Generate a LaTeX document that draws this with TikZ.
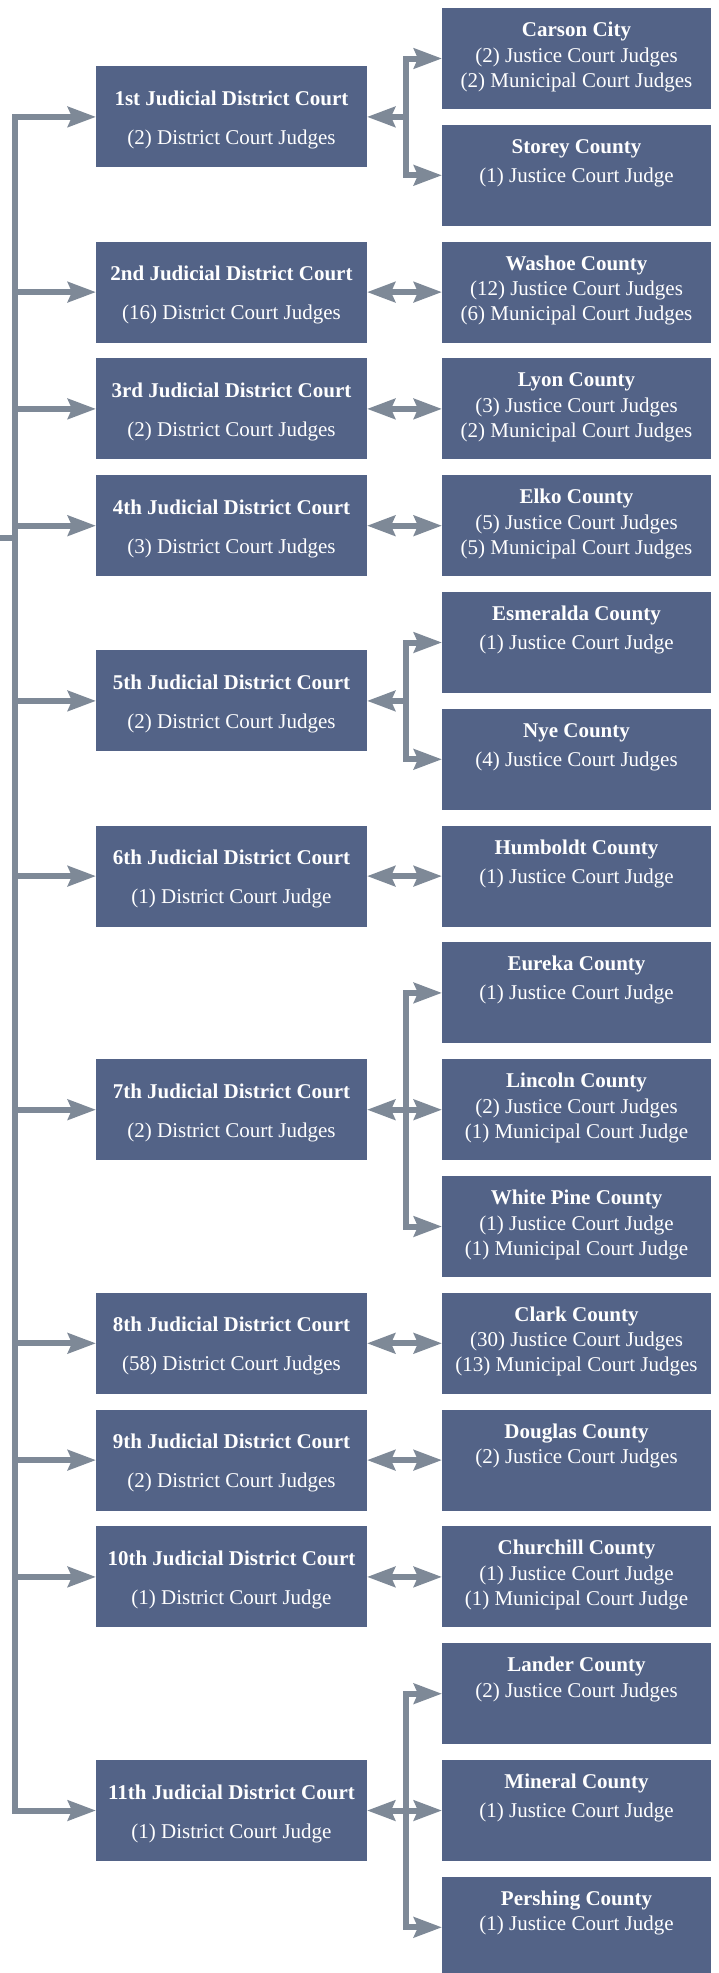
\documentclass[tikz,border=0pt]{standalone}
\usepackage{fontspec}
\setmainfont{Liberation Serif}
\usetikzlibrary{arrows.meta}
\definecolor{boxc}{HTML}{536387}
\definecolor{arrc}{HTML}{7E8997}
\tikzset{
  box/.style={fill=boxc, draw=none, minimum height=101pt, inner sep=0pt, outer sep=0pt},
  lbox/.style={box, minimum width=271pt},
  rbox/.style={box, minimum width=269pt},
  txt/.style={text=white, font=\fontsize{21}{25}\selectfont, anchor=base, inner sep=0pt, outer sep=0pt},
  ttl/.style={txt, font=\fontsize{21}{25}\selectfont\bfseries},
  conn/.style={draw=arrc, line width=6pt, line join=miter},
  arr/.style={-{Stealth[length=28pt,width=20pt,inset=4pt]}},
  darr/.style={{Stealth[length=28pt,width=20pt,inset=4pt]}-{Stealth[length=28pt,width=20pt,inset=4pt]}}
}
% name, row, title, line 2, line 3, baseline offset of line 2
\newcommand\RBox[6]{%
  \node[rbox] (#1) at (576.5,{58.5+116.8*#2}) {};
  \node[ttl] (#1-t) at ([yshift=-28.5pt]#1.north) {#3};
  \node[txt] (#1-a) at ([yshift=-#6pt]#1.north) {#4};
  \def\tmpthird{#5}\ifx\tmpthird\empty\else
  \node[txt] (#1-b) at ([yshift=-79pt]#1.north) {#5};\fi
}
\newcommand\LBox[4]{%
  \node[lbox] (#1) at (231.5,{58.5+116.8*#2}) {};
  \node[ttl] (#1-t) at ([yshift=-39pt]#1.north) {#3};
  \node[txt] (#1-a) at ([yshift=-78pt]#1.north) {#4};
}
\begin{document}
\begin{tikzpicture}[x=1pt,y=-1pt]
\fill[white] (0,0) rectangle (719,1973);
\useasboundingbox (0,0) rectangle (719,1973);

\RBox{carson}{0}{Carson City}{(2) Justice Court Judges}{(2) Municipal Court Judges}{54}
\RBox{storey}{1}{Storey County}{(1) Justice Court Judge}{}{57.5}
\RBox{washoe}{2}{Washoe County}{(12) Justice Court Judges}{(6) Municipal Court Judges}{54}
\RBox{lyon}{3}{Lyon County}{(3) Justice Court Judges}{(2) Municipal Court Judges}{54}
\RBox{elko}{4}{Elko County}{(5) Justice Court Judges}{(5) Municipal Court Judges}{54}
\RBox{esmeralda}{5}{Esmeralda County}{(1) Justice Court Judge}{}{57.5}
\RBox{nye}{6}{Nye County}{(4) Justice Court Judges}{}{57.5}
\RBox{humboldt}{7}{Humboldt County}{(1) Justice Court Judge}{}{57.5}
\RBox{eureka}{8}{Eureka County}{(1) Justice Court Judge}{}{57}
\RBox{lincoln}{9}{Lincoln County}{(2) Justice Court Judges}{(1) Municipal Court Judge}{54}
\RBox{whitepine}{10}{White Pine County}{(1) Justice Court Judge}{(1) Municipal Court Judge}{54}
\RBox{clark}{11}{Clark County}{(30) Justice Court Judges}{(13) Municipal Court Judges}{54}
\RBox{douglas}{12}{Douglas County}{(2) Justice Court Judges}{}{54}
\RBox{churchill}{13}{Churchill County}{(1) Justice Court Judge}{(1) Municipal Court Judge}{54}
\RBox{lander}{14}{Lander County}{(2) Justice Court Judges}{}{54}
\RBox{mineral}{15}{Mineral County}{(1) Justice Court Judge}{}{57}
\RBox{pershing}{16}{Pershing County}{(1) Justice Court Judge}{}{54}

\LBox{d1}{0.5}{1st Judicial District Court}{(2) District Court Judges}
\LBox{d2}{2}{2nd Judicial District Court}{(16) District Court Judges}
\LBox{d3}{3}{3rd Judicial District Court}{(2) District Court Judges}
\LBox{d4}{4}{4th Judicial District Court}{(3) District Court Judges}
\LBox{d5}{5.5}{5th Judicial District Court}{(2) District Court Judges}
\LBox{d6}{7}{6th Judicial District Court}{(1) District Court Judge}
\LBox{d7}{9}{7th Judicial District Court}{(2) District Court Judges}
\LBox{d8}{11}{8th Judicial District Court}{(58) District Court Judges}
\LBox{d9}{12}{9th Judicial District Court}{(2) District Court Judges}
\LBox{d10}{13}{10th Judicial District Court}{(1) District Court Judge}
\LBox{d11}{15}{11th Judicial District Court}{(1) District Court Judge}

\coordinate (trunk) at (15,0);
\coordinate (br) at (406,0);
\coordinate (stub) at (0,538);

% left trunk
\draw[conn,darr] (d1.west) -- (d1.west -| trunk) -- (d11.west -| trunk) -- (d11.west);
\foreach \k in {d2,d3,d4,d5,d6,d7,d8,d9,d10}
  \draw[conn,arr] (\k.west -| trunk) -- (\k.west);
\draw[conn] (stub) -- (stub -| trunk);

% single links
\draw[conn,darr] (d2.east) -- (washoe.west);
\draw[conn,darr] (d3.east) -- (lyon.west);
\draw[conn,darr] (d4.east) -- (elko.west);
\draw[conn,darr] (d6.east) -- (humboldt.west);
\draw[conn,darr] (d8.east) -- (clark.west);
\draw[conn,darr] (d9.east) -- (douglas.west);
\draw[conn,darr] (d10.east) -- (churchill.west);

% branches
\draw[conn,darr] (carson.west) -- (carson.west -| br) -- (storey.west -| br) -- (storey.west);
\draw[conn,arr] (d1.east -| br) -- (d1.east);

\draw[conn,darr] (esmeralda.west) -- (esmeralda.west -| br) -- (nye.west -| br) -- (nye.west);
\draw[conn,arr] (d5.east -| br) -- (d5.east);

\draw[conn,darr] (eureka.west) -- (eureka.west -| br) -- (whitepine.west -| br) -- (whitepine.west);
\draw[conn,arr] (lincoln.west -| br) -- (lincoln.west);
\draw[conn,arr] (d7.east -| br) -- (d7.east);

\draw[conn,darr] (lander.west) -- (lander.west -| br) -- (pershing.west -| br) -- (pershing.west);
\draw[conn,arr] (mineral.west -| br) -- (mineral.west);
\draw[conn,arr] (d11.east -| br) -- (d11.east);
\end{tikzpicture}
\end{document}
